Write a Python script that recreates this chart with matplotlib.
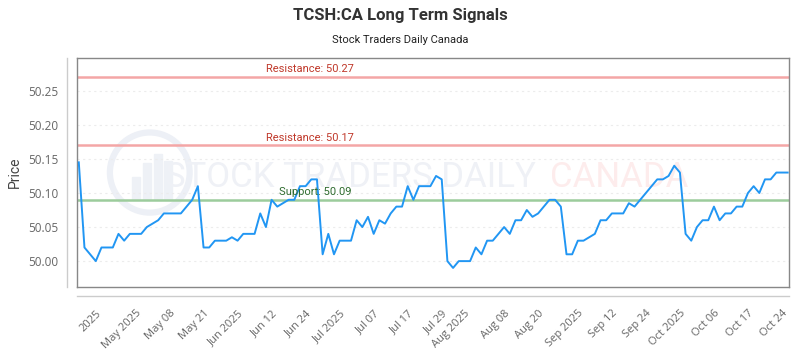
import numpy as np
import matplotlib
matplotlib.use("Agg")
from matplotlib import pyplot as plt
from matplotlib.patches import Ellipse, Rectangle

# ---------------- data ----------------
prices = [50.145, 50.02, 50.01, 50.00, 50.02, 50.02, 50.02, 50.04, 50.03, 50.04,
          50.04, 50.04, 50.05, 50.055, 50.06, 50.07, 50.07, 50.07, 50.07, 50.08,
          50.09, 50.11, 50.02, 50.02, 50.03, 50.03, 50.03, 50.035, 50.03, 50.04,
          50.04, 50.04, 50.07, 50.05, 50.09, 50.08, 50.085, 50.09, 50.09, 50.11,
          50.11, 50.12, 50.12, 50.01, 50.04, 50.01, 50.03, 50.03, 50.03, 50.06,
          50.05, 50.065, 50.04, 50.06, 50.055, 50.07, 50.08, 50.08, 50.11, 50.09,
          50.11, 50.11, 50.11, 50.125, 50.12, 50.00, 49.99, 50.00, 50.00, 50.00,
          50.02, 50.01, 50.03, 50.03, 50.04, 50.05, 50.04, 50.06, 50.06, 50.075,
          50.065, 50.07, 50.08, 50.09, 50.09, 50.08, 50.01, 50.01, 50.03, 50.03,
          50.035, 50.04, 50.06, 50.06, 50.07, 50.07, 50.07, 50.085, 50.08, 50.09,
          50.10, 50.11, 50.12, 50.12, 50.125, 50.14, 50.13, 50.04, 50.03, 50.05,
          50.06, 50.06, 50.08, 50.06, 50.07, 50.07, 50.08, 50.08, 50.10, 50.11,
          50.10, 50.12, 50.12, 50.13, 50.13, 50.13]

tick_idx = [3, 10, 16, 22, 28, 34, 40, 46, 52, 58, 64, 68, 75, 81, 88, 94,
            100, 106, 112, 118, 124]
tick_labels = ["2025", "May 2025", "May 08", "May 21", "Jun 2025", "Jun 12",
               "Jun 24", "Jul 2025", "Jul 07", "Jul 17", "Jul 29", "Aug 2025",
               "Aug 08", "Aug 20", "Sep 2025", "Sep 12", "Sep 24", "Oct 2025",
               "Oct 06", "Oct 17", "Oct 24"]

resistance = [50.27, 50.17]
support = [50.09]

# ---------------- plot ----------------
plt.rcParams['font.family'] = ['Roboto', 'DejaVu Sans']

fig = plt.figure(figsize=(8, 3.5), dpi=100)
ax = fig.add_axes([0.096, 0.18, 0.89, 0.654])

# faint watermark
ax.add_patch(Ellipse((0.1025, 0.50), 0.112, 0.35, transform=ax.transAxes,
                     fill=False, ec='#edf0f6', lw=4.5, zorder=0))
for bx, bh in [(0.078, 0.10), (0.093, 0.16), (0.108, 0.20), (0.123, 0.17)]:
    ax.add_patch(Rectangle((bx, 0.38), 0.011, bh, transform=ax.transAxes,
                           color='#eef1f6', zorder=0))
ax.text(0.124, 0.48, "STOCK TRADERS DAILY", transform=ax.transAxes,
        fontsize=25, color='#eff1f6', va='center', ha='left', zorder=0)
ax.text(0.665, 0.48, "CANADA", transform=ax.transAxes,
        fontsize=25, color='#fdecec', va='center', ha='left', zorder=0)

x = np.arange(len(prices))
ax.plot(x, prices, color='#2196f3', lw=1.4, zorder=3)

for r in resistance:
    ax.axhline(r, color='#f4a6a6', lw=1.8, zorder=2)
    ax.text(0.327, r + 0.004, "Resistance: %.2f" % r, transform=ax.get_yaxis_transform(),
            ha='center', va='bottom', fontsize=8, color='#c0392b')
for s in support:
    ax.axhline(s, color='#9ccc9c', lw=1.8, zorder=2)
    ax.text(0.335, s + 0.004, "Support: %.2f" % s, transform=ax.get_yaxis_transform(),
            ha='center', va='bottom', fontsize=8, color='#2e6b2e')

ax.set_xlim(-0.35, len(prices) - 0.8)
ax.set_ylim(49.962, 50.298)
ax.set_yticks([50.00, 50.05, 50.10, 50.15, 50.20, 50.25])
ax.set_yticklabels(["50.00", "50.05", "50.10", "50.15", "50.20", "50.25"])
ax.yaxis.grid(True, color='#ececec', ls=(0, (2, 3)), lw=0.8)
ax.set_axisbelow(True)

ax.set_xticks(tick_idx)
ax.set_xticklabels(tick_labels, rotation=45, ha='right', rotation_mode='anchor')
ax.tick_params(axis='x', length=0, pad=15, labelsize=8, labelcolor='#666666')
ax.tick_params(axis='y', length=0, pad=13, labelsize=8.5, labelcolor='#666666')
for lab in ax.get_xticklabels() + ax.get_yticklabels():
    lab.set_family(['Open Sans', 'DejaVu Sans'])

for sp in ax.spines.values():
    sp.set_color('#888888')
    sp.set_linewidth(1.0)

# outer axis lines like the original
ax.plot([-0.014, -0.014], [0, 1], transform=ax.transAxes, clip_on=False,
        color='#cccccc', lw=1)
ax.plot([0, 1], [-0.039, -0.039], transform=ax.transAxes, clip_on=False,
        color='#cccccc', lw=1)

ax.set_ylabel("Price", fontsize=10, color='#444444', labelpad=5)

fig.text(0.5, 0.955, "TCSH:CA Long Term Signals", ha='center', va='center',
         fontsize=12, fontweight='bold', color='#333333')
fig.text(0.5, 0.885, "Stock Traders Daily Canada", ha='center', va='center',
         fontsize=8, color='#222222')

fig.savefig("out.png", dpi=100)
